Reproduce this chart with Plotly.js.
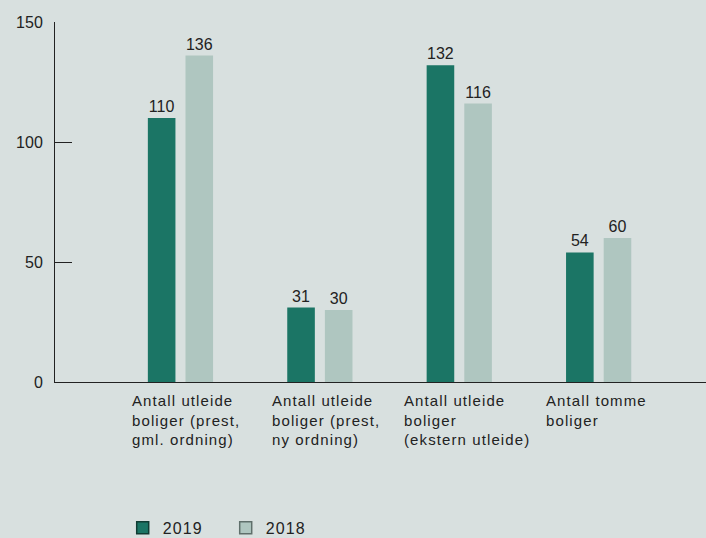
<!DOCTYPE html>
<html>
<head>
<meta charset="utf-8">
<script src="https://cdn.plot.ly/plotly-3.0.1.min.js"></script>
<style>
  html, body { margin: 0; padding: 0; background: #d8e0df; }
  #chart { width: 706px; height: 538px; }
  .annotation-text, .legendtext { letter-spacing: 1.1px; }
</style>
</head>
<body>
<div id="chart"></div>
<script>
const categories = [
  'Antall utleide<br>boliger (prest,<br>gml. ordning)',
  'Antall utleide<br>boliger (prest,<br>ny ordning)',
  'Antall utleide<br>boliger<br>(ekstern utleide)',
  'Antall tomme<br>boliger'
];
const values2019 = [110, 31, 132, 54];
const values2018 = [136, 30, 116, 60];
const seriesNames = ['2019', '2018'];
const yTicks = [0, 50, 100, 150];

const textFont = { family: 'Liberation Sans, Arial, sans-serif', size: 16, color: '#222222' };

const traces = [
  {
    type: 'bar', name: seriesNames[0], x: categories, y: values2019,
    marker: { color: '#1b7565' },
    text: values2019.map(String), textposition: 'outside', textfont: textFont,
    cliponaxis: false, hoverinfo: 'none'
  },
  {
    type: 'bar', name: seriesNames[1], x: categories, y: values2018,
    marker: { color: '#afc6c0' },
    text: values2018.map(String), textposition: 'outside', textfont: textFont,
    cliponaxis: false, hoverinfo: 'none'
  }
];

// label offsets from category centre (style only)
const labelShift = [-50, -50, -57, -55];
const annotations = categories.map((c, i) => ({
  x: c, xref: 'x', y: 0, yref: 'paper',
  text: c, showarrow: false,
  xanchor: 'left', yanchor: 'top', align: 'left',
  xshift: labelShift[i], yshift: -8,
  font: { family: 'Liberation Sans, Arial, sans-serif', size: 15, color: '#222222' }
}));

const layout = {
  width: 706, height: 538,
  margin: { l: 55, r: 0, t: 22, b: 156, pad: 0, autoexpand: false },
  paper_bgcolor: '#d8e0df', plot_bgcolor: '#d8e0df',
  barmode: 'group', bargap: 0.46, bargroupgap: 0.267,
  showlegend: true,
  legend: {
    orientation: 'h', x: 0.104, xanchor: 'left', y: -0.405, yanchor: 'middle',
    font: { family: 'Liberation Sans, Arial, sans-serif', size: 16, color: '#222222' },
    entrywidth: 58, entrywidthmode: 'pixels',
    bgcolor: 'rgba(0,0,0,0)'
  },
  xaxis: {
    type: 'category', range: [-0.9, 3.77],
    showline: true, linecolor: '#222222', linewidth: 1,
    showticklabels: false, ticks: '', showgrid: false, zeroline: false, fixedrange: true
  },
  yaxis: {
    range: [0, 150], tickvals: yTicks, ticktext: yTicks.map(String),
    showline: true, linecolor: '#222222', linewidth: 1,
    ticks: 'inside', ticklen: 17, tickcolor: '#222222', tickwidth: 1,
    ticklabelstandoff: 8,
    showgrid: false, zeroline: false,
    tickfont: { family: 'Liberation Sans, Arial, sans-serif', size: 16, color: '#222222' },
    fixedrange: true
  },
  annotations: annotations
};

Plotly.newPlot('chart', traces, layout, { displayModeBar: false, staticPlot: true }).then(() => {
  document.querySelectorAll('.legendpoints path').forEach((p, i) => {
    p.style.stroke = i === 0 ? '#103d34' : '#5f6f6b';
    p.style.strokeWidth = '1.5px';
  });
});
</script>
</body>
</html>
